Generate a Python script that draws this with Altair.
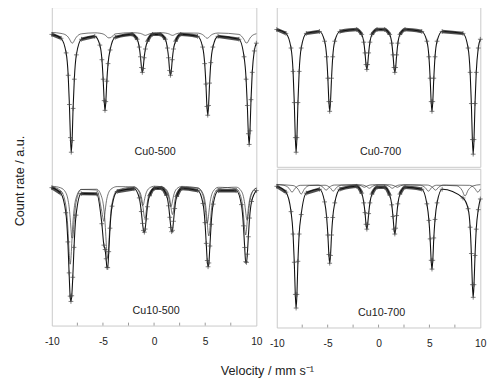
import altair as alt
import pandas as pd

FONT = "Liberation Sans"

# ---------------- data (velocity in mm/s, count rate in a.u.) ----------------
V_A = [-10.0,
       -9.1, -8.6, -8.4, -8.28, -8.18, -8.1, -8.02, -7.92, -7.8, -7.6, -7.1,
       -5.8, -5.3, -5.1, -4.98, -4.88, -4.8, -4.72, -4.62, -4.5, -4.3, -3.8,
       -2.15, -1.65, -1.45, -1.33, -1.23, -1.15, -1.07, -0.97, -0.85, -0.65, -0.15,
       0.6, 1.1, 1.3, 1.42, 1.52, 1.6, 1.68, 1.78, 1.9, 2.1, 2.6,
       4.25, 4.75, 4.95, 5.07, 5.17, 5.25, 5.33, 5.43, 5.55, 5.75, 6.25,
       8.3, 8.8, 9.0, 9.12, 9.22, 9.3, 9.38, 9.48, 9.6, 9.8, 10.0]

V_B = [-10.0,
       -9.13, -8.63, -8.43, -8.31, -8.21, -8.13, -8.05, -7.95, -7.83, -7.63, -7.13,
       -5.61, -5.11, -4.91, -4.79, -4.69, -4.61, -4.53, -4.43, -4.31, -4.11, -3.61,
       -1.95, -1.45, -1.25, -1.13, -1.03, -0.95, -0.87, -0.77, -0.65, -0.45, 0.05,
       0.72, 1.22, 1.42, 1.54, 1.64, 1.72, 1.80, 1.90, 2.02, 2.22, 2.72,
       4.28, 4.78, 4.98, 5.10, 5.20, 5.28, 5.36, 5.46, 5.58, 5.78, 6.28,
       8.04, 8.54, 8.74, 8.86, 8.96, 9.04, 9.12, 9.22, 9.34, 9.54, 10.0]

CU0_500_FIT = [998,
               994, 979, 956, 926, 892, 877, 889, 922, 952, 977, 993,
               996, 987, 972, 952, 930, 920, 929, 950, 968, 982, 995,
               998, 993, 985, 975, 964, 959, 963, 974, 983, 991, 998,
               998, 993, 984, 974, 961, 956, 960, 972, 983, 991, 998,
               996, 985, 968, 947, 924, 915, 925, 948, 969, 985, 996,
               993, 975, 952, 925, 896, 885, 899, 931, 959, 981, 989]

CU0_500_SUB = [1000,
               999.0, 997.2, 995.2, 993.3, 991.3, 989.8, 989.0, 989.5, 991.7, 995.2, 998.6,
               999.6, 999.2, 998.8, 998.4, 997.9, 997.4, 996.7, 995.7, 994.5, 994.5, 998.5,
               999.8, 999.5, 999.2, 999.0, 998.6, 998.3, 997.8, 997.3, 997.0, 997.7, 999.4,
               999.8, 999.4, 999.0, 998.6, 998.2, 997.7, 997.3, 997.0, 997.2, 998.3, 999.5,
               999.3, 997.7, 996.0, 994.7, 994.1, 994.1, 994.7, 995.8, 997.0, 998.3, 999.4,
               998.0, 992.7, 989.2, 989.4, 991.1, 992.7, 994.2, 995.6, 996.8, 998.0, 998.7]

CU0_700_FIT = [998,
               994, 979, 955, 923, 887, 872, 887, 923, 955, 979, 994,
               996, 986, 970, 948, 924, 914, 924, 948, 970, 986, 996,
               998, 993, 985, 974, 962, 957, 962, 974, 985, 993, 998,
               998, 993, 984, 972, 959, 954, 959, 972, 984, 993, 998,
               996, 986, 970, 948, 924, 914, 924, 948, 970, 986, 996,
               994, 979, 954, 922, 885, 870, 885, 922, 954, 979, 988]

CU10_500_FIT = [997.6,
                991.9, 971.9, 941.9, 910.1, 886.2, 880.8, 886.6, 905.6, 936.3, 969.4, 991.5,
                991.2, 960.6, 938.6, 934.1, 924.6, 915.8, 915.5, 931.9, 956.0, 978.6, 993.7,
                996.5, 987.1, 973.1, 960.9, 953.7, 951.9, 955.1, 965.5, 978.0, 989.3, 996.9,
                997.0, 989.7, 979.0, 967.2, 956.7, 952.4, 953.8, 963.1, 976.2, 988.6, 996.8,
                994.6, 981.4, 961.7, 940.4, 922.8, 916.4, 920.3, 937.7, 960.0, 980.7, 994.5,
                994.5, 980.2, 958.4, 936.2, 921.6, 920.9, 929.3, 947.2, 966.4, 983.4, 994.6]

CU10_500_SUB_A = [999.1,
                  997.4, 992.4, 985.8, 978.0, 967.2, 955.9, 946.1, 946.1, 961.7, 982.5, 995.7,
                  995.2, 973.1, 963.0, 973.1, 981.7, 986.7, 990.0, 992.9, 995.0, 996.9, 998.7,
                  998.3, 992.9, 984.6, 979.3, 980.5, 984.6, 988.6, 992.3, 995.0, 997.3, 999.1,
                  998.5, 994.4, 988.1, 981.6, 978.0, 979.6, 983.8, 989.0, 993.1, 996.5, 998.9,
                  997.3, 989.8, 978.0, 966.4, 961.0, 964.6, 972.3, 981.3, 988.2, 993.9, 998.0,
                  996.4, 986.2, 970.1, 954.9, 949.0, 954.9, 965.1, 976.5, 985.1, 992.2, 997.2]

CU10_500_SUB_B = [998.5,
                  994.5, 979.5, 956.1, 932.1, 919.0, 924.9, 940.5, 959.5, 974.6, 986.9, 995.8,
                  996.0, 987.5, 975.6, 961.0, 942.9, 929.1, 925.5, 939.0, 961.0, 981.7, 995.0,
                  998.2, 994.2, 988.5, 981.6, 973.2, 967.3, 966.5, 973.2, 983.0, 992.0, 997.8,
                  998.5, 995.3, 990.9, 985.6, 978.7, 972.8, 970.0, 974.1, 983.1, 992.1, 997.9,
                  997.3, 991.6, 983.7, 974.0, 961.8, 951.8, 948.0, 956.4, 971.8, 986.8, 996.5,
                  998.1, 994.0, 988.3, 981.3, 972.6, 966.0, 964.2, 970.7, 981.3, 991.2, 997.4]

CU10_700_FIT = [998,
                992, 972, 949, 920, 887, 873, 887, 921, 949, 969, 991,
                995, 982, 966, 948, 928, 919, 927, 948, 966, 981, 995,
                998, 991, 981, 971, 959, 954, 959, 970, 981, 990, 997,
                997, 989, 979, 967, 954, 949, 955, 968, 980, 990, 997,
                995, 980, 963, 944, 922, 913, 922, 945, 964, 981, 995,
                986, 975, 956, 929, 897, 884, 897, 927, 954, 974, 985]

CU10_700_SUB_X_V = [-10.0, -9.3, -8.8, -8.5, -8.2, -7.7, -5.95, -5.45, -5.15, -4.85, -4.35,
                    -2.2, -1.7, -1.4, -1.1, -0.6, 1.05, 1.55, 1.85, 2.15, 2.65,
                    4.8, 5.3, 5.6, 5.9, 6.4, 8.95, 9.45, 9.75, 10.0]
CU10_700_SUB_X = [999.7, 999, 996, 992, 996, 999, 999.3, 997, 994, 997, 999.3,
                  999.6, 998.5, 997, 998.5, 999.6, 999.6, 998.5, 997, 998.5, 999.6,
                  999.3, 997, 994, 997, 999.3, 999, 996, 992, 995.3]
CU10_700_SUB_Y_V = [-10.0, -8.4, -7.9, -7.6, -7.3, -6.8, -5.25, -4.75, -4.45, -4.15, -3.65,
                    -1.7, -1.2, -0.9, -0.6, -0.1, 0.55, 1.05, 1.35, 1.65, 2.15,
                    4.1, 4.6, 4.9, 5.2, 5.7, 7.7, 8.2, 8.5, 8.8, 9.3, 10.0]
CU10_700_SUB_Y = [999.8, 998.8, 995, 990, 995, 998.8, 999.1, 996.5, 993, 996.5, 999.1,
                  999.5, 998, 996, 998, 999.5, 999.5, 998, 996, 998, 999.5,
                  999.1, 996.5, 993, 996.5, 999.1, 998.5, 994, 988, 994, 998.5, 999.7]

SAMPLES = ["Cu0-500", "Cu10-500", "Cu0-700", "Cu10-700"]
LABEL_V = [0.1, 0.2, 0.2, 0.3]
LABEL_C = [877, 871, 872, 868]
X_TICKS = [-10, -5, 0, 5, 10]
MINOR_TICKS = [-7.5, -5, -2.5, 0, 2.5, 5, 7.5]

CROSS = "M-1,0L1,0M0,-1L0,1"
XSCALE = alt.Scale(domain=[-10, 10], nice=False, zero=False)


def xenc(field, show_axis):
    if show_axis:
        ax = alt.Axis(values=X_TICKS, ticks=False, domain=False, grid=False,
                      labelExpr="'' + datum.value", labelFlush=False,
                      labelPadding=11, labelFontSize=10.5, title=None)
    else:
        ax = None
    return alt.X(f"{field}:Q", scale=XSCALE, axis=ax)


def yenc(domain, title, field="c"):
    sc = alt.Scale(domain=domain, nice=False, zero=False)
    if title:
        ax = alt.Axis(title=title, labels=False, ticks=False, domain=False, grid=False,
                      titleFontSize=13, titleFontWeight="normal", titlePadding=26,
                      titleY=178)
    else:
        ax = None
    return alt.Y(f"{field}:Q", scale=sc, axis=ax)


def spectrum(v, fit, subs, idx, domain, show_x, title=None, tick_h=None):
    layers = []
    fit_df = pd.DataFrame({"v": v, "c": fit})
    # dense cloud of measured counts along the flat baseline
    layers.append(
        alt.Chart(fit_df)
        .transform_calculate(b="datum.c > 988 ? datum.c : null")
        .mark_line(interpolate="monotone", color="#333333", strokeWidth=3.5,
                   opacity=0.85, invalid="break-paths-show-domains")
        .encode(x=xenc("v", show_x), y=yenc(domain, title, "b"))
    )
    for sv, sc in subs:
        layers.append(
            alt.Chart(pd.DataFrame({"v": sv, "c": sc}))
            .mark_line(interpolate="monotone", color="#333333", strokeWidth=0.7)
            .encode(x=xenc("v", show_x), y=yenc(domain, title))
        )
    layers.append(
        alt.Chart(fit_df)
        .mark_line(interpolate="monotone", color="#111111", strokeWidth=1.1)
        .encode(x=xenc("v", show_x), y=yenc(domain, title))
    )
    layers.append(
        alt.Chart(fit_df)
        .mark_point(shape=CROSS, filled=False, size=24, strokeWidth=0.7,
                    color="#444444", opacity=1)
        .encode(x=xenc("v", show_x), y=yenc(domain, title))
    )
    layers.append(
        alt.Chart(pd.DataFrame({"v": [LABEL_V[idx]], "c": [LABEL_C[idx]],
                                "t": [SAMPLES[idx]]}))
        .mark_text(font=FONT, fontSize=11, color="#222222", baseline="middle")
        .encode(x=xenc("v", show_x), y=yenc(domain, title), text="t:N")
    )
    if tick_h is not None:
        layers.append(
            alt.Chart(pd.DataFrame({"t": MINOR_TICKS}))
            .mark_rule(color="#999999", strokeWidth=1)
            .encode(x=xenc("t", show_x), y=alt.value(tick_h), y2=alt.value(tick_h - 3))
        )
    return alt.layer(*layers)


cu0_500 = spectrum(V_A, CU0_500_FIT, [(V_A, CU0_500_SUB)], 0, [699, 1026], True,
                   title="Count rate / a.u.")
cu10_500 = spectrum(V_B, CU10_500_FIT, [(V_B, CU10_500_SUB_A), (V_B, CU10_500_SUB_B)],
                    1, [856, 1183], True, tick_h=327)
left = alt.layer(cu0_500, cu10_500).resolve_scale(y="independent").properties(
    width=210, height=327)

cu0_700 = spectrum(V_A, CU0_700_FIT, [], 2, [857, 1021], False).properties(
    width=209, height=164)
cu10_700 = spectrum(V_A, CU10_700_FIT,
                    [(CU10_700_SUB_X_V, CU10_700_SUB_X), (CU10_700_SUB_Y_V, CU10_700_SUB_Y)],
                    3, [853, 1016], True, tick_h=163).properties(width=209, height=163)
right = alt.vconcat(cu0_700, cu10_700, spacing=0)

chart = (
    alt.hconcat(left, right, spacing=4)
    .properties(
        title=alt.TitleParams(text="Velocity / mm s\u207b\u00b9", orient="bottom",
                              anchor="middle", fontSize=13, font=FONT,
                              fontWeight="normal", color="#222222", offset=17, dx=18),
        padding={"left": 5, "top": -7, "right": 5, "bottom": 5},
    )
    .configure_view(stroke="#c8c8c8", strokeWidth=1)
    .configure_axis(labelFont=FONT, titleFont=FONT, labelColor="#222222",
                    titleColor="#222222")
)

chart.save("out.html", embed_options={"renderer": "svg", "actions": False})
